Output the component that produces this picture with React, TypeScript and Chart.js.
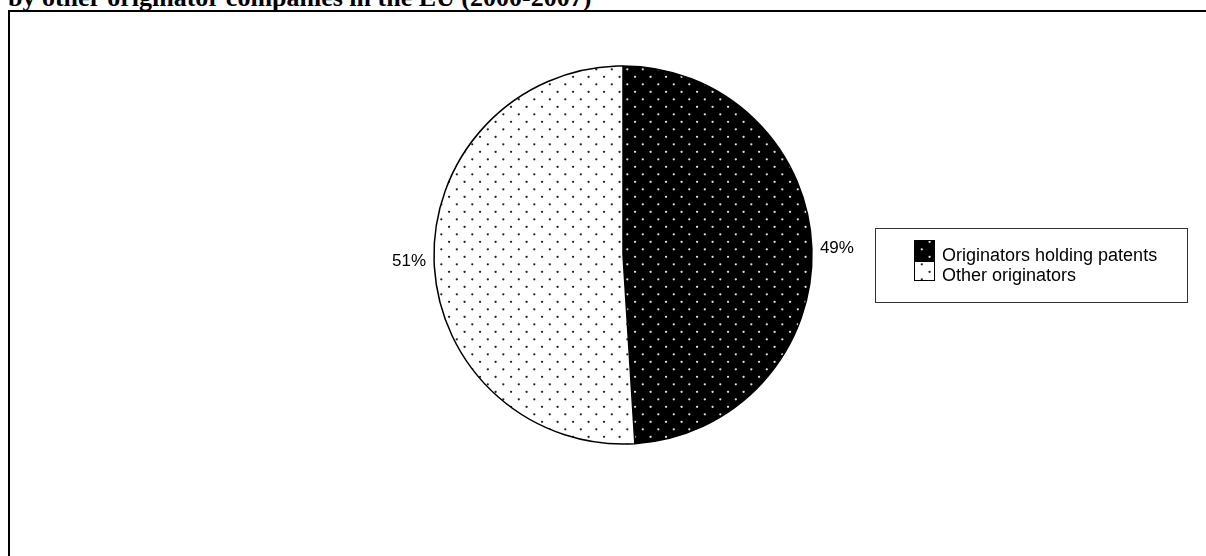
import React, { useEffect, useRef } from "react";
import { Chart, registerables } from "chart.js";

Chart.register(...registerables);

const titleText = "by other originator companies in the EU (2000-2007)";
const categories = ["Originators holding patents", "Other originators"];
const shares = [49, 51];
const valueLabels = ["49%", "51%"];

function makePattern(bg: string, dot: string): CanvasPattern | string {
  const c = document.createElement("canvas");
  c.width = 31;
  c.height = 15;
  const ctx = c.getContext("2d");
  if (!ctx) return bg;
  ctx.fillStyle = bg;
  ctx.fillRect(0, 0, 31, 15);
  ctx.fillStyle = dot;
  const pts = [
    [7.3, 9.3],
    [22.8, 9.3],
    [15.05, 1.8],
    [30.55, 1.8],
    [-0.45, 1.8],
  ];
  for (const [x, y] of pts) {
    ctx.beginPath();
    ctx.arc(x, y, 1.15, 0, Math.PI * 2);
    ctx.fill();
  }
  const p = ctx.createPattern(c, "repeat");
  return p || bg;
}

export default function App() {
  const ref = useRef<HTMLCanvasElement | null>(null);

  useEffect(() => {
    const canvas = ref.current;
    if (!canvas) return;
    const darkFill = makePattern("#000000", "#e0e0e0");
    const lightFill = makePattern("#ffffff", "#222222");
    const fills = [darkFill, lightFill];

    const overlay = {
      id: "overlay",
      afterDraw(chart: any) {
        const ctx = chart.ctx as CanvasRenderingContext2D;
        const meta = chart.getDatasetMeta(0);
        ctx.save();
        ctx.font = "17px 'Liberation Sans', Arial, sans-serif";
        ctx.fillStyle = "#000";
        ctx.textBaseline = "middle";
        meta.data.forEach((arc: any, i: number) => {
          const p = arc.getProps(["x", "y", "startAngle", "endAngle", "outerRadius"], true);
          const mid = (p.startAngle + p.endAngle) / 2;
          const r = p.outerRadius + 8;
          const c = Math.cos(mid);
          const px = p.x + c * r;
          const py = p.y + Math.sin(mid) * r;
          ctx.textAlign = c >= 0 ? "left" : "right";
          ctx.fillText(valueLabels[i], px, py);
        });

        // legend box
        ctx.lineWidth = 1;
        ctx.strokeStyle = "#333";
        ctx.strokeRect(875.5, 228.5, 312, 74);
        const sx = 914;
        const rows = [
          { y: 240, h: 21, base: 261 },
          { y: 261, h: 20, base: 281 },
        ];
        ctx.font = "18px 'Liberation Sans', Arial, sans-serif";
        ctx.textAlign = "left";
        ctx.textBaseline = "alphabetic";
        categories.forEach((name, i) => {
          const row = rows[i];
          ctx.fillStyle = fills[i] as any;
          ctx.fillRect(sx, row.y, 21, row.h);
          ctx.strokeStyle = "#000";
          ctx.strokeRect(sx + 0.5, row.y + 0.5, 20, row.h - 1);
          ctx.fillStyle = "#000";
          ctx.fillText(name, 942, row.base);
        });
        ctx.restore();
      },
    };

    const chart = new Chart(canvas, {
      type: "pie",
      data: {
        labels: categories,
        datasets: [
          {
            data: shares,
            backgroundColor: fills as any,
            borderColor: "#000",
            borderWidth: 1.5,
          },
        ],
      },
      options: {
        responsive: false,
        animation: false,
        radius: 189,
        layout: { padding: { left: 40, right: 0, top: 0, bottom: 46 } },
        plugins: {
          legend: { display: false },
          tooltip: { enabled: false },
        },
      } as any,
      plugins: [overlay],
    });
    return () => chart.destroy();
  }, []);

  return (
    <div
      style={{
        position: "fixed",
        left: 0,
        top: 0,
        width: 1206,
        height: 556,
        overflow: "hidden",
        background: "#fff",
      }}
    >
      <div
        style={{
          position: "absolute",
          left: 8,
          top: -15,
          fontFamily: "'Liberation Serif', 'Times New Roman', serif",
          fontWeight: "bold",
          fontSize: 26,
          lineHeight: "26px",
          whiteSpace: "nowrap",
          color: "#000",
        }}
      >
        {titleText}
      </div>
      <div
        style={{
          position: "absolute",
          left: 8,
          top: 10,
          width: 1400,
          height: 800,
          border: "2px solid #000",
          boxSizing: "border-box",
        }}
      />
      <canvas
        ref={ref}
        width={1206}
        height={556}
        style={{ position: "absolute", left: 0, top: 0, width: 1206, height: 556 }}
      />
    </div>
  );
}
